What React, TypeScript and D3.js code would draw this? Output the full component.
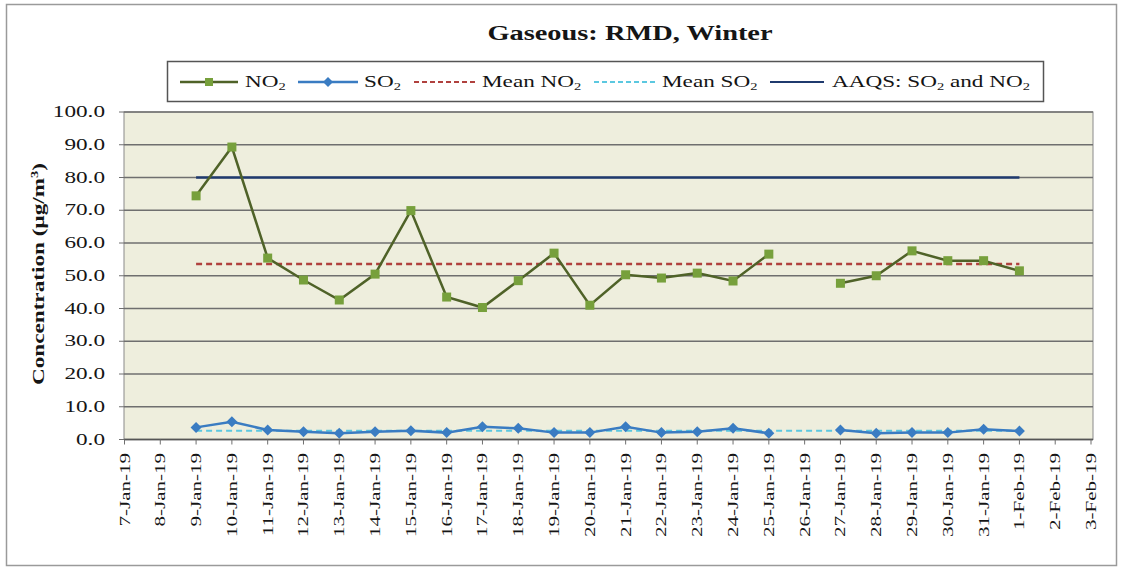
import React from "react";
import * as d3 from "d3";

const dates = ["7-Jan-19","8-Jan-19","9-Jan-19","10-Jan-19","11-Jan-19","12-Jan-19","13-Jan-19","14-Jan-19","15-Jan-19","16-Jan-19","17-Jan-19","18-Jan-19","19-Jan-19","20-Jan-19","21-Jan-19","22-Jan-19","23-Jan-19","24-Jan-19","25-Jan-19","26-Jan-19","27-Jan-19","28-Jan-19","29-Jan-19","30-Jan-19","31-Jan-19","1-Feb-19","2-Feb-19","3-Feb-19"];
const no2: (number | null)[] = [null,null,74.4,89.3,55.4,48.7,42.6,50.5,69.9,43.5,40.3,48.5,56.9,41.0,50.3,49.3,50.8,48.4,56.6,null,47.7,50.0,57.6,54.6,54.6,51.5,null,null];
const so2: (number | null)[] = [null,null,3.7,5.4,2.9,2.4,1.9,2.4,2.7,2.1,3.9,3.4,2.1,2.1,3.9,2.1,2.4,3.4,1.9,null,2.9,1.9,2.1,2.1,3.1,2.6,null,null];
const meanNO2 = 53.6;
const meanSO2 = 2.7;
const aaqs = 80;
const refStart = "9-Jan-19";
const refEnd = "1-Feb-19";
const yTicks = [0,10,20,30,40,50,60,70,80,90,100];

const SX = 1.45;

function T(props: { x: number; y: number; rotate?: number; sx?: number; anchor?: string; size: number; bold?: boolean; children: React.ReactNode }) {
  const { x, y, rotate = 0, sx = SX, anchor = "start", size, bold, children } = props;
  return (
    <g transform={`translate(${x},${y}) rotate(${rotate}) scale(${sx},1)`}>
      <text x={0} y={0} textAnchor={anchor} fontSize={size} fontWeight={bold ? "bold" : "normal"} fill="#151515">{children}</text>
    </g>
  );
}

export default function App() {
  const W = 1123, H = 569;
  const left = 124, right = 1093, top = 112, bottom = 439.5;
  const x = d3.scalePoint<string>().domain(dates).range([124.5, 1091]);
  const y = d3.scaleLinear().domain([0, 100]).range([bottom, top]);
  const font = "'Liberation Serif', 'Times New Roman', serif";

  const lineGen = d3.line<[string, number | null]>()
    .defined(d => d[1] !== null)
    .x(d => x(d[0])!)
    .y(d => y(d[1] as number));

  const no2Pts = dates.map((d, i) => [d, no2[i]] as [string, number | null]);
  const so2Pts = dates.map((d, i) => [d, so2[i]] as [string, number | null]);
  const x0 = x(refStart)!, x1 = x(refEnd)!;

  const no2Line = "#4F6228";
  const no2Marker = "#77A03C";
  const so2Color = "#3A7CC2";
  const meanNO2Color = "#B0413E";
  const meanSO2Color = "#5BC8E0";
  const aaqsColor = "#1F3A6E";

  const legendY = 82;
  const sub = (s: string) => <tspan fontSize={10} dy={3}>{s}</tspan>;

  return (
    <svg width={W} height={H} style={{ position: "absolute", left: 0, top: 0 }} fontFamily={font}>
      <rect x={0} y={0} width={W} height={H} fill="#fff" />
      <rect x={6.5} y={4.5} width={1110} height={561} fill="#fff" stroke="#9a9a9a" strokeWidth={1.5} />
      <T x={630} y={40} anchor="middle" size={20} bold sx={1.42}>Gaseous: RMD, Winter</T>

      {/* legend */}
      <rect x={167.5} y={61.5} width={876} height={40} fill="#fff" stroke="#555" strokeWidth={1.5} />
      <line x1={180} x2={238} y1={legendY} y2={legendY} stroke={no2Line} strokeWidth={2.5} />
      <rect x={205} y={legendY - 4} width={8} height={8} fill={no2Marker} />
      <T x={245} y={legendY + 5} size={16}>NO{sub("2")}</T>
      <line x1={298} x2={358} y1={legendY} y2={legendY} stroke={so2Color} strokeWidth={2.5} />
      <path d={`M328,${legendY - 5} L333,${legendY} L328,${legendY + 5} L323,${legendY} Z`} fill={so2Color} />
      <T x={364} y={legendY + 5} size={16}>SO{sub("2")}</T>
      <line x1={414} x2={477} y1={legendY} y2={legendY} stroke={meanNO2Color} strokeWidth={2} strokeDasharray="5,3" />
      <T x={482} y={legendY + 5} size={16}>Mean NO{sub("2")}</T>
      <line x1={594} x2={656} y1={legendY} y2={legendY} stroke={meanSO2Color} strokeWidth={2} strokeDasharray="5,3" />
      <T x={662} y={legendY + 5} size={16}>Mean SO{sub("2")}</T>
      <line x1={770} x2={824} y1={legendY} y2={legendY} stroke={aaqsColor} strokeWidth={2} />
      <T x={832} y={legendY + 5} size={16}>AAQS: SO{sub("2")}<tspan dy={-3}> and NO</tspan>{sub("2")}</T>

      {/* plot area */}
      <rect x={left} y={top} width={right - left} height={bottom - top} fill="#EEEEDD" stroke="#8a8a8a" strokeWidth={1} />
      {yTicks.map(t => (
        <g key={t}>
          <line x1={left} x2={right} y1={y(t)} y2={y(t)} stroke="#6f6f6f" strokeWidth={1.5} />
          <line x1={left - 5} x2={left} y1={y(t)} y2={y(t)} stroke="#6f6f6f" strokeWidth={1} />
          <T x={105} y={y(t) + 5} anchor="end" size={16}>{t.toFixed(1)}</T>
        </g>
      ))}
      <line x1={left} x2={right} y1={bottom} y2={bottom} stroke="#555" strokeWidth={1.5} />
      {dates.map(d => (
        <g key={d}>
          <line x1={x(d)} x2={x(d)} y1={bottom} y2={bottom + 5} stroke="#6f6f6f" />
          <T x={x(d)! + 5} y={453} rotate={-90} anchor="end" size={14} sx={1.5}>{d}</T>
        </g>
      ))}
      <T x={44} y={274} rotate={-90} anchor="middle" size={16} bold sx={1.45}>
        Concentration (µg/m<tspan fontSize={10} dy={-6}>3</tspan><tspan dy={6}>)</tspan>
      </T>

      {/* reference lines */}
      <line x1={x0} x2={x1} y1={y(aaqs)} y2={y(aaqs)} stroke={aaqsColor} strokeWidth={2.5} />
      <line x1={x0} x2={x1} y1={y(meanNO2)} y2={y(meanNO2)} stroke={meanNO2Color} strokeWidth={2.5} strokeDasharray="6,4" />
      <line x1={x0} x2={x1} y1={y(meanSO2)} y2={y(meanSO2)} stroke={meanSO2Color} strokeWidth={2} strokeDasharray="6,4" />

      {/* series */}
      <path d={lineGen(no2Pts)!} fill="none" stroke={no2Line} strokeWidth={2.5} />
      {no2Pts.filter(p => p[1] !== null).map(p => (
        <rect key={p[0]} x={x(p[0])! - 4.5} y={y(p[1] as number) - 4.5} width={9} height={9} fill={no2Marker} />
      ))}
      <path d={lineGen(so2Pts)!} fill="none" stroke={so2Color} strokeWidth={2.5} />
      {so2Pts.filter(p => p[1] !== null).map(p => {
        const cx = x(p[0])!, cy = y(p[1] as number);
        return <path key={p[0]} d={`M${cx},${cy - 5.5} L${cx + 5.5},${cy} L${cx},${cy + 5.5} L${cx - 5.5},${cy} Z`} fill={so2Color} />;
      })}
    </svg>
  );
}
